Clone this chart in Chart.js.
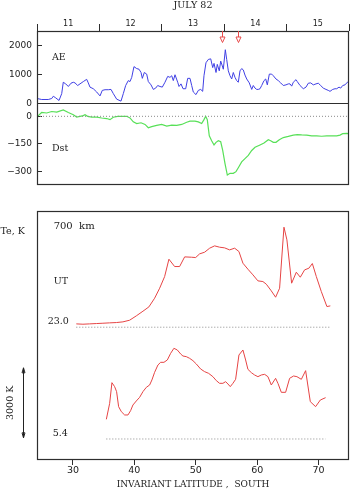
<!DOCTYPE html>
<html>
<head>
<meta charset="utf-8">
<script src="https://cdn.jsdelivr.net/npm/chart.js@4.4.1/dist/chart.umd.min.js"></script>
<style>
  html, body { margin: 0; padding: 0; background: #fff; }
  #wrap { position: relative; width: 352px; height: 490px; }
  #wrap canvas { position: absolute; left: 0; }
  #chart-storm { top: 0; }
  #chart-te { top: 200px; }
</style>
</head>
<body>
<div id="wrap">
  <canvas id="chart-storm" width="352" height="200"></canvas>
  <canvas id="chart-te" width="352" height="290"></canvas>
</div>
<script>
// ---- data ----
const dayLabels = ["11", "12", "13", "14", "15"];
const aeTicks = [0, 1000, 2000];
const dstTicks = [0, -150, -300];
const latTicks = [30, 40, 50, 60, 70];

// satellite passes marked by the red arrows: day of July and UT (h)
const passDay = [13, 14];
const passUT = [23.0, 5.4];

// AE index (nT), x = day of July 1982
const aeDays = [
  11.0, 11.075, 11.181, 11.236, 11.261, 11.3, 11.353, 11.396, 11.421, 11.46,
  11.502, 11.545, 11.582, 11.609, 11.652, 11.689, 11.742, 11.796, 11.822, 11.849,
  11.902, 11.957, 12.01, 12.046, 12.09, 12.143, 12.186, 12.223, 12.277, 12.346,
  12.383, 12.421, 12.463, 12.49, 12.518, 12.554, 12.598, 12.635, 12.667, 12.688,
  12.72, 12.758, 12.784, 12.827, 12.864, 12.902, 12.934, 12.971, 13.008, 13.051,
  13.095, 13.131, 13.159, 13.184, 13.212, 13.255, 13.276, 13.308, 13.34, 13.383,
  13.415, 13.452, 13.479, 13.505, 13.548, 13.585, 13.623, 13.655, 13.676, 13.708,
  13.745, 13.784, 13.816, 13.837, 13.869, 13.889, 13.921, 13.944, 13.97, 13.986,
  14.018, 14.04, 14.066, 14.093, 14.12, 14.146, 14.173, 14.2, 14.226, 14.253,
  14.28, 14.306, 14.333, 14.361, 14.402, 14.441, 14.466, 14.494, 14.521, 14.546,
  14.574, 14.601, 14.638, 14.665, 14.691, 14.723, 14.761, 14.787, 14.83, 14.867,
  14.905, 14.947, 14.99, 15.027, 15.054, 15.082, 15.107, 15.151, 15.171, 15.215,
  15.268, 15.311, 15.348, 15.386, 15.428, 15.471, 15.508, 15.546, 15.588, 15.631,
  15.668, 15.696, 15.739, 15.776, 15.803, 15.84, 15.867, 15.899, 15.936, 15.973,
  16.0
];
const aeValues = [
  169, 135, 135, 169, 247, 191, 101, 337, 730, 674,
  584, 697, 730, 708, 618, 674, 753, 831, 708, 562,
  506, 393, 258, 449, 472, 472, 483, 337, 146, 79,
  337, 618, 787, 753, 899, 1270, 1202, 1180, 1067, 865,
  1067, 1011, 753, 640, 483, 528, 618, 584, 562, 730,
  933, 899, 955, 787, 989, 730, 584, 674, 506, 506,
  865, 865, 618, 393, 303, 449, 483, 416, 955, 1404,
  1517, 1539, 1236, 1382, 1067, 1348, 1124, 1461, 1292, 1180,
  1854, 1517, 1124, 955, 843, 1067, 899, 787, 730, 1124,
  1202, 1157, 978, 843, 708, 483, 618, 528, 483, 483,
  506, 618, 787, 843, 640, 1011, 1011, 955, 843, 787,
  708, 618, 640, 674, 674, 596, 730, 820, 753, 618,
  506, 562, 697, 708, 640, 674, 697, 618, 528, 483,
  449, 416, 483, 506, 506, 562, 528, 618, 640, 730,
  753
];

// Dst index (nT), x = day of July 1982
const dstDays = [
  11.0, 11.021, 11.075, 11.155, 11.236, 11.316, 11.421, 11.502, 11.582, 11.636,
  11.689, 11.742, 11.769, 11.812, 11.876, 11.957, 12.037, 12.117, 12.17, 12.223,
  12.293, 12.367, 12.438, 12.49, 12.543, 12.598, 12.667, 12.731, 12.784, 12.838,
  12.918, 12.998, 13.079, 13.159, 13.239, 13.319, 13.399, 13.452, 13.532, 13.585,
  13.639, 13.676, 13.703, 13.729, 13.761, 13.799, 13.837, 13.869, 13.906, 13.944,
  13.976, 14.013, 14.05, 14.093, 14.146, 14.189, 14.226, 14.28, 14.333, 14.386,
  14.441, 14.494, 14.574, 14.638, 14.707, 14.745, 14.787, 14.83, 14.883, 14.947,
  15.027, 15.107, 15.171, 15.242, 15.322, 15.402, 15.482, 15.562, 15.643, 15.723,
  15.803, 15.856, 15.899, 15.963, 16.0
];
const dstValues = [
  0, 4, 21, 18, 26, 23, 35, 21, 9, -4,
  0, 4, 9, 0, -4, -4, -9, -12, -18, -5,
  0, 0, 0, -9, -30, -39, -35, -44, -62, -56,
  -49, -44, -53, -48, -49, -44, -32, -26, -26, -30,
  -39, -18, 0, -18, -106, -132, -155, -141, -132, -138,
  -185, -256, -318, -309, -309, -300, -279, -247, -229, -212,
  -185, -168, -155, -145, -127, -132, -141, -141, -127, -115,
  -109, -102, -99, -101, -102, -106, -106, -108, -106, -106,
  -106, -102, -94, -92, -94
];

// Te profiles at 700 km (K above each profile's dotted base level), x = invariant latitude
const teLat230 = [
  30.55, 31.63, 32.72, 33.81, 34.88, 35.98, 37.07, 38.14, 39.23, 40.32,
  41.4, 42.37, 43.3, 44.12, 44.93, 45.63, 46.56, 47.37, 48.19, 49.28,
  49.98, 50.63, 51.44, 52.26, 53.07, 53.88, 54.7, 55.51, 56.33, 57.03,
  57.68, 58.49, 59.31, 60.12, 60.93, 61.49, 62.3, 63.0, 63.65, 64.36,
  64.84, 65.61, 66.37, 67.02, 67.72, 68.42, 68.98, 69.63, 70.44, 71.35,
  71.91
];
const teK230 = [
  143, 129, 143, 157, 171, 186, 200, 229, 300, 486,
  686, 871, 1243, 1671, 2171, 2914, 2600, 2600, 3014, 3000,
  2986, 3143, 3214, 3386, 3486, 3429, 3400, 3314, 3386, 3243,
  2743, 2486, 2243, 1986, 1957, 1843, 1557, 1286, 1671, 4286,
  3743, 1886, 2357, 2143, 2457, 2529, 2729, 2171, 1529, 886,
  914
];
const teLat054 = [
  35.44, 35.98, 36.35, 36.79, 37.11, 37.44, 37.88, 38.42, 38.96, 39.39,
  39.77, 40.32, 40.86, 41.4, 41.95, 42.49, 42.86, 43.3, 43.84, 44.28,
  44.82, 45.37, 45.91, 46.44, 47.0, 47.54, 47.91, 48.46, 49.0, 49.54,
  50.09, 50.79, 51.44, 52.09, 52.79, 53.35, 53.88, 54.42, 54.86, 55.24,
  55.62, 56.05, 56.49, 57.03, 57.68, 58.12, 58.49, 59.05, 59.58, 60.12,
  60.67, 61.21, 61.75, 62.3, 63.0, 63.38, 63.93, 64.63, 65.28, 65.93,
  66.47, 67.19, 67.89, 68.65, 69.51, 70.28, 71.14
];
const teK054 = [
  843, 1529, 2414, 2243, 2029, 1386, 1171, 1029, 1029, 1214,
  1457, 1629, 1786, 2029, 2214, 2314, 2529, 2857, 3171, 3286,
  3286, 3386, 3671, 3886, 3814, 3643, 3557, 3529, 3457, 3357,
  3214, 3000, 2886, 2814, 2671, 2500, 2386, 2386, 2457, 2357,
  2243, 2386, 2557, 3600, 3814, 3386, 2986, 2843, 2743, 2671,
  2743, 2771, 2671, 2314, 2600, 2386, 2000, 2000, 2600, 2700,
  2671, 2557, 2929, 1600, 1386, 1671, 1771
];

// vertical offsets of the two stacked Te profiles, K
const offset230 = 5690;
const offset054 = 900;
const scaleBarK = 3000;

// ---- look ----
const serif = '"DejaVu Serif", "Liberation Serif", serif';
const sans = '"DejaVu Sans", "Liberation Sans", sans-serif';
const ink = "#222";
const frame = "#2e2e2e";
const colors = { ae: "#4040e4", dst: "#58e058", te: "#e64444", dots: "#8a8a8a", arrow: "#e84a4a" };

Chart.defaults.color = ink;
Chart.defaults.font.family = sans;

const pts = (xs, ys, off = 0) => xs.map((x, i) => ({ x, y: ys[i] + off }));
const line = (data, color, yAxisID, extra) => Object.assign({
  data, borderColor: color, borderWidth: 1, pointRadius: 0, tension: 0, yAxisID,
}, extra || {});
const dotted = (x0, x1, y, yAxisID) => line([{ x: x0, y }, { x: x1, y }], colors.dots, yAxisID, { borderDash: [1, 2] });
const setTicks = (values) => (scale) => { scale.ticks = values.map((value) => ({ value })); };
const plainLabel = (v) => (v < 0 ? "\u2212" + Math.abs(v) : String(v));

// frame boxes + text notes placed through the chart's scales
const notes = {
  id: "notes",
  afterDraw(chart, args, opts) {
    const { ctx, chartArea: a } = chart;
    ctx.save();
    ctx.strokeStyle = frame;
    ctx.lineWidth = 1.2;
    const L = Math.round(a.left) + 0.5, R = Math.round(a.right) - 0.5;
    ctx.strokeRect(L, Math.round(a.top) + 0.5, R - L, Math.round(a.bottom) - Math.round(a.top) - 1);
    (opts.splits || []).forEach((id) => {
      const y = Math.round(chart.scales[id].bottom) + 0.5;
      ctx.beginPath(); ctx.moveTo(L, y); ctx.lineTo(R, y); ctx.stroke();
    });
    ctx.lineWidth = 1;
    ctx.fillStyle = ink;
    ctx.textAlign = "left";
    ctx.textBaseline = "middle";
    (opts.labels || []).forEach((l) => {
      const x = chart.scales.x.getPixelForValue(l.x);
      const y = chart.scales[l.yAxis].getPixelForValue(l.y);
      ctx.font = l.font || "9.5px " + serif;
      if (l.rotate) {
        ctx.save(); ctx.translate(x, y); ctx.rotate(-Math.PI / 2);
        ctx.textAlign = "center"; ctx.fillText(l.text, 0, 0); ctx.restore();
      } else {
        ctx.fillText(l.text, x, y);
      }
    });
    if (opts.passes) {
      ctx.strokeStyle = colors.arrow;
      opts.passes.forEach((d) => {
        const x = Math.round(chart.scales.x.getPixelForValue(d)) + 0.5;
        const t = a.top;
        ctx.beginPath(); ctx.moveTo(x, t); ctx.lineTo(x, t + 6); ctx.stroke();
        ctx.beginPath(); ctx.moveTo(x - 2.5, t + 6); ctx.lineTo(x + 2.5, t + 6); ctx.lineTo(x, t + 11.5); ctx.closePath(); ctx.stroke();
      });
    }
    if (opts.scaleBar) {
      const b = opts.scaleBar;
      const x = Math.round(chart.scales.x.getPixelForValue(b.x)) + 0.5;
      const y0 = chart.scales[b.yAxis].getPixelForValue(b.from);
      const y1 = chart.scales[b.yAxis].getPixelForValue(b.to);
      ctx.strokeStyle = ink;
      ctx.beginPath(); ctx.moveTo(x, y0); ctx.lineTo(x, y1); ctx.stroke();
      ctx.beginPath(); ctx.moveTo(x - 1.5, y1 + 5); ctx.lineTo(x + 1.5, y1 + 5); ctx.lineTo(x, y1); ctx.closePath(); ctx.stroke();
      ctx.beginPath(); ctx.moveTo(x - 1.5, y0 - 5); ctx.lineTo(x + 1.5, y0 - 5); ctx.lineTo(x, y0); ctx.closePath(); ctx.stroke();
    }
    ctx.restore();
  },
};

const tickGrid = (len) => ({ drawOnChartArea: false, color: frame, tickLength: len, lineWidth: 1 });

// ---- AE / Dst panel ----
new Chart(document.getElementById("chart-storm"), {
  type: "line",
  data: {
    datasets: [
      line(pts(aeDays, aeValues), colors.ae, "yAE"),
      dotted(11, 16, 0, "yDst"),
      line(pts(dstDays, dstValues), colors.dst, "yDst", { borderWidth: 1.2 }),
    ],
  },
  options: {
    responsive: false,
    animation: false,
    layout: { padding: { left: 0, right: 3, top: 0, bottom: 12 } },
    plugins: {
      legend: { display: false },
      tooltip: { enabled: false },
      notes: {
        splits: ["yAE"],
        passes: passDay.map((d, i) => d + passUT[i] / 24),
        labels: [
          { text: "AE", x: 11.24, y: 1590, yAxis: "yAE" },
          { text: "Dst", x: 11.24, y: -174, yAxis: "yDst" },
        ],
      },
    },
    scales: {
      x: { type: "linear", min: 11, max: 16, display: false },
      xDays: {
        type: "category",
        labels: dayLabels,
        position: "top",
        offset: true,
        grid: Object.assign(tickGrid(7), { offset: true }),
        border: { display: false },
        ticks: { font: { size: 8, family: sans }, padding: -4.5, maxRotation: 0 },
        title: { display: true, text: "JULY 82", font: { size: 9.5, family: serif, lineHeight: 1 }, padding: { top: 0.5, bottom: 0 } },
        afterFit: (s) => { s.height = 31; },
      },
      yDst: {
        type: "linear", position: "left", stack: "storm", stackWeight: 83,
        min: -370, max: 70,
        afterBuildTicks: setTicks(dstTicks),
        grid: tickGrid(-5),
        border: { display: false },
        ticks: { font: { size: 9, family: sans }, padding: 10, callback: plainLabel },
        afterFit: (s) => { s.width = 37; },
      },
      yAE: {
        type: "linear", position: "left", stack: "storm", stackWeight: 74,
        min: 0, max: 2500,
        afterBuildTicks: setTicks(aeTicks),
        grid: tickGrid(-5),
        border: { display: false },
        ticks: { font: { size: 9, family: sans }, padding: 10, callback: plainLabel },
        afterFit: (s) => { s.width = 37; },
      },
    },
  },
  plugins: [notes],
});

// ---- Te panel ----
const lat230 = [Math.min(...teLat230), Math.max(...teLat230)];
const lat054 = [Math.min(...teLat054), Math.max(...teLat054)];

new Chart(document.getElementById("chart-te"), {
  type: "line",
  data: {
    datasets: [
      dotted(lat230[0], lat230[1], offset230, "y"),
      dotted(lat054[0], lat054[1], offset054, "y"),
      line(pts(teLat230, teK230, offset230), colors.te, "y"),
      line(pts(teLat054, teK054, offset054), colors.te, "y"),
    ],
  },
  options: {
    responsive: false,
    animation: false,
    layout: { padding: { left: 37, right: 3, top: 11, bottom: 0 } },
    plugins: {
      legend: { display: false },
      tooltip: { enabled: false },
      notes: {
        labels: [
          { text: "Te, K", x: 18.2, y: 9770, yAxis: "y" },
          { text: "700  km", x: 26.86, y: 9990, yAxis: "y", font: "10px " + serif },
          { text: "UT", x: 26.86, y: 7630, yAxis: "y" },
          { text: passUT[0].toFixed(1), x: 25.9, y: offset230 + 230, yAxis: "y" },
          { text: passUT[1].toFixed(1), x: 26.7, y: offset054 + 215, yAxis: "y" },
          { text: scaleBarK + " K", x: 19.86, y: offset054 + 50 + scaleBarK / 2, yAxis: "y", rotate: true },
        ],
        scaleBar: { x: 21.86, from: offset054 + 50, to: offset054 + 50 + scaleBarK, yAxis: "y" },
      },
    },
    scales: {
      x: {
        type: "linear", position: "bottom", min: 24.15, max: 74.95,
        afterBuildTicks: setTicks(latTicks),
        grid: tickGrid(5),
        border: { display: false },
        ticks: { font: { size: 9.5, family: sans }, padding: 0, maxRotation: 0 },
        title: { display: true, text: "INVARIANT LATITUDE ,  SOUTH", font: { size: 9, family: serif, lineHeight: 1 }, padding: { top: 0, bottom: 0.5 } },
        afterFit: (s) => { s.height = 30; },
      },
      y: { type: "linear", min: 0, max: 10670, display: false },
    },
  },
  plugins: [notes],
});
</script>
</body>
</html>
